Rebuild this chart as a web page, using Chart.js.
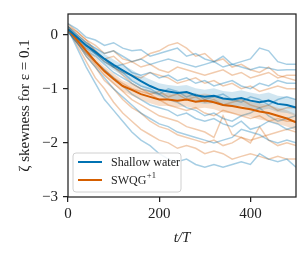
<!DOCTYPE html>
<html>
<head>
<meta charset="utf-8">
<script src="https://cdn.jsdelivr.net/npm/chart.js@4.4.1/dist/chart.umd.min.js"></script>
<style>
  html, body { margin: 0; padding: 0; background: #fff; }
  #wrap { width: 308px; height: 259px; }
</style>
</head>
<body>
<div id="wrap"><canvas id="c" width="308" height="259"></canvas></div>
<script>
// time axis, t/T
const times = [0,20,40,60,80,100,120,140,160,180,200,220,240,260,280,300,320,340,360,380,400,420,440,460,480,500];

// ensemble means
const shallowMean = [0.1,-0.05,-0.2,-0.32,-0.45,-0.56,-0.66,-0.76,-0.86,-0.95,-1.02,-1.05,-1.08,-1.06,-1.12,-1.15,-1.13,-1.18,-1.2,-1.17,-1.22,-1.25,-1.22,-1.28,-1.3,-1.35];
const swqgMean = [0.1,-0.1,-0.3,-0.5,-0.68,-0.82,-0.95,-1.02,-1.1,-1.15,-1.2,-1.2,-1.22,-1.2,-1.24,-1.22,-1.25,-1.3,-1.32,-1.35,-1.38,-1.42,-1.45,-1.5,-1.55,-1.62];

// spread of the shaded band around each mean
const shallowSpread = [0.04,0.06,0.07,0.08,0.09,0.1,0.1,0.11,0.11,0.12,0.12,0.12,0.13,0.13,0.13,0.13,0.14,0.14,0.14,0.14,0.15,0.15,0.15,0.15,0.15,0.15];
const swqgSpread = [0.04,0.06,0.07,0.08,0.09,0.1,0.1,0.11,0.11,0.12,0.12,0.12,0.12,0.13,0.13,0.13,0.13,0.14,0.14,0.14,0.14,0.15,0.15,0.15,0.15,0.15];

// individual runs, shallow water
const shallowRuns = [
  [0.2,0.1,-0.05,-0.1,-0.2,-0.15,-0.25,-0.3,-0.28,-0.4,-0.35,-0.3,-0.25,-0.4,-0.35,-0.45,-0.5,-0.4,-0.55,-0.5,-0.45,-0.25,-0.3,-0.5,-0.55,-0.55],
  [0.15,0,-0.15,-0.25,-0.35,-0.3,-0.4,-0.5,-0.45,-0.55,-0.5,-0.45,-0.5,-0.55,-0.6,-0.55,-0.5,-0.6,-0.55,-0.6,-0.65,-0.6,-0.62,-0.66,-0.65,-0.65],
  [0.1,-0.05,-0.2,-0.35,-0.45,-0.6,-0.55,-0.7,-0.75,-0.7,-0.8,-0.75,-0.85,-0.8,-0.9,-0.85,-0.95,-0.9,-0.85,-0.95,-1.0,-0.9,-0.95,-0.85,-0.9,-0.9],
  [0.1,-0.1,-0.3,-0.4,-0.55,-0.7,-0.8,-0.9,-1.0,-1.05,-1.1,-1.0,-1.05,-1.15,-1.1,-1.2,-1.15,-1.1,-1.2,-1.25,-1.15,-1.2,-1.3,-1.2,-1.15,-1.2],
  [0.05,-0.15,-0.35,-0.5,-0.65,-0.8,-0.95,-1.1,-1.2,-1.3,-1.35,-1.4,-1.5,-1.45,-1.55,-1.6,-1.55,-1.65,-1.7,-1.6,-1.75,-1.7,-1.6,-1.65,-1.75,-1.7],
  [0.1,-0.25,-0.6,-0.9,-1.2,-1.4,-1.6,-1.8,-1.95,-2.05,-2.2,-2.3,-2.35,-2.3,-2.4,-2.45,-2.4,-2.45,-2.4,-2.35,-2.4,-2.2,-2.3,-2.35,-2.3,-2.45],
  [0.15,-0.05,-0.25,-0.35,-0.5,-0.6,-0.7,-0.85,-0.95,-1.0,-1.1,-1.2,-1.25,-1.35,-1.4,-1.5,-1.45,-1.55,-1.6,-1.5,-1.45,-1.35,-1.5,-1.6,-1.55,-1.5],
  [0.05,-0.15,-0.4,-0.6,-0.8,-1.0,-1.15,-1.3,-1.45,-1.55,-1.65,-1.7,-1.8,-1.85,-1.9,-1.95,-2.0,-1.95,-1.9,-1.75,-1.8,-1.85,-1.95,-2.0,-1.95,-2.0]
];

// individual runs, SWQG+1
const swqgRuns = [
  [0.15,0,-0.15,-0.3,-0.45,-0.4,-0.55,-0.5,-0.45,-0.35,-0.3,-0.2,-0.15,-0.25,-0.4,-0.35,-0.5,-0.45,-0.6,-0.55,-0.65,-0.7,-0.6,-0.75,-0.8,-0.85],
  [0.1,-0.05,-0.2,-0.35,-0.5,-0.6,-0.7,-0.75,-0.8,-0.7,-0.75,-0.8,-0.9,-0.85,-0.8,-0.9,-0.85,-0.95,-0.9,-1.0,-0.95,-1.05,-1.0,-0.95,-1.0,-1.0],
  [0.1,-0.1,-0.3,-0.5,-0.65,-0.8,-0.9,-1.0,-1.05,-1.1,-1.05,-1.15,-1.1,-1.2,-1.15,-1.25,-1.2,-1.3,-1.25,-1.2,-1.3,-1.35,-1.3,-1.4,-1.35,-1.35],
  [0.05,-0.15,-0.35,-0.55,-0.75,-0.9,-1.05,-1.2,-1.3,-1.4,-1.5,-1.55,-1.6,-1.7,-1.75,-1.8,-1.9,-1.5,-1.85,-1.9,-1.95,-1.9,-1.85,-1.8,-1.75,-1.8],
  [0.1,-0.2,-0.5,-0.8,-1.0,-1.25,-1.45,-1.6,-1.75,-1.85,-1.95,-2.0,-2.1,-2.05,-2.1,-2.2,-2.15,-2.2,-2.3,-2.25,-2.2,-2.25,-2.3,-2.25,-2.3,-2.3],
  [0.2,0.05,-0.1,-0.3,-0.45,-0.6,-0.75,-0.9,-1.0,-1.1,-1.2,-1.3,-1.35,-1.4,-1.35,-1.45,-1.5,-1.4,-1.45,-1.5,-1.55,-1.5,-1.6,-1.55,-1.6,-1.6],
  [0.15,0.05,-0.1,-0.2,-0.35,-0.3,-0.45,-0.5,-0.6,-0.55,-0.65,-0.7,-0.6,-0.65,-0.7,-0.75,-0.7,-0.65,-0.75,-0.7,-0.8,-0.75,-0.7,-0.8,-0.75,-0.75],
  [0.1,-0.15,-0.4,-0.6,-0.85,-1.0,-1.2,-1.35,-1.45,-1.6,-1.7,-1.75,-1.85,-1.9,-1.95,-2.0,-1.95,-2.05,-2.0,-1.9,-2.0,-1.7,-1.95,-2.05,-2.0,-2.05]
];

const xTicks = [0, 200, 400];
const yTicks = [-3, -2, -1, 0];

const BLUE = '#0072B2';
const ORANGE = '#D55E00';
const SERIF = '"Liberation Serif", "DejaVu Serif", serif';

const pts = arr => arr.map((v, i) => ({x: times[i], y: v}));

const datasets = [];
// means on top
datasets.push({label: 'Shallow water', data: pts(shallowMean), borderColor: BLUE, borderWidth: 2, order: 0});
datasets.push({label: 'SWQG+1', data: pts(swqgMean), borderColor: ORANGE, borderWidth: 2, order: 0});
// bands
datasets.push({label: 'sw hi', data: pts(shallowMean.map((m, i) => m + shallowSpread[i])), borderWidth: 0, borderColor: 'transparent', order: 1});
datasets.push({label: 'sw lo', data: pts(shallowMean.map((m, i) => m - shallowSpread[i])), borderWidth: 0, borderColor: 'transparent', fill: '-1', backgroundColor: 'rgba(0,114,178,0.18)', order: 1});
datasets.push({label: 'qg hi', data: pts(swqgMean.map((m, i) => m + swqgSpread[i])), borderWidth: 0, borderColor: 'transparent', order: 1});
datasets.push({label: 'qg lo', data: pts(swqgMean.map((m, i) => m - swqgSpread[i])), borderWidth: 0, borderColor: 'transparent', fill: '-1', backgroundColor: 'rgba(213,94,0,0.2)', order: 1});
// runs
shallowRuns.forEach(r => datasets.push({label: 'run', data: pts(r), borderColor: 'rgba(0,114,178,0.35)', borderWidth: 1.5, order: 2}));
swqgRuns.forEach(r => datasets.push({label: 'run', data: pts(r), borderColor: 'rgba(213,94,0,0.32)', borderWidth: 1.5, order: 2}));

const frameAndLegend = {
  id: 'frameAndLegend',
  afterDraw(chart) {
    const {ctx, chartArea: a} = chart;
    ctx.save();
    ctx.strokeStyle = '#222';
    ctx.lineWidth = 1.25;
    ctx.strokeRect(a.left, a.top, a.right - a.left, a.bottom - a.top);

    // legend box, lower left
    const bx = a.left + 5, by = a.bottom - 44, bw = 108, bh = 39, r = 3;
    ctx.beginPath();
    ctx.roundRect(bx, by, bw, bh, r);
    ctx.fillStyle = 'rgba(255,255,255,0.85)';
    ctx.fill();
    ctx.strokeStyle = '#d0d0d0';
    ctx.lineWidth = 1;
    ctx.stroke();

    const rows = [{c: BLUE, y: by + 9, t: 'Shallow water'}, {c: ORANGE, y: by + 27, t: 'SWQG', sup: '+1'}];
    rows.forEach(row => {
      ctx.beginPath();
      ctx.strokeStyle = row.c;
      ctx.lineWidth = 2;
      ctx.moveTo(bx + 5, row.y);
      ctx.lineTo(bx + 29, row.y);
      ctx.stroke();
      ctx.fillStyle = '#222';
      ctx.textBaseline = 'middle';
      ctx.font = '12px ' + SERIF;
      ctx.fillText(row.t, bx + 38, row.y + 1);
      if (row.sup) {
        const w = ctx.measureText(row.t).width;
        ctx.font = '8.5px ' + SERIF;
        ctx.fillText(row.sup, bx + 38 + w + 0.5, row.y - 4);
      }
    });
    ctx.restore();
  }
};

new Chart(document.getElementById('c'), {
  type: 'line',
  data: {datasets},
  options: {
    responsive: false,
    animation: false,
    elements: {point: {radius: 0}, line: {tension: 0, fill: false}},
    layout: {padding: {left: 16, right: 12, top: 12, bottom: 12}},
    plugins: {legend: {display: false}, tooltip: {enabled: false}},
    scales: {
      x: {
        type: 'linear', min: 0, max: 500,
        afterBuildTicks: s => { s.ticks = xTicks.map(v => ({value: v})); },
        afterFit: s => { s.height = 50; },
        grid: {drawOnChartArea: false, drawTicks: true, tickLength: 5, color: '#222', lineWidth: 1.25},
        border: {display: false},
        ticks: {color: '#222', font: {family: SERIF, size: 15}, padding: 3, maxRotation: 0},
        title: {display: true, text: 't/T', color: '#222', font: {family: SERIF, size: 15, style: 'italic'}, padding: {top: 0, bottom: 0}}
      },
      y: {
        type: 'linear', min: -3, max: 0.38,
        afterBuildTicks: s => { s.ticks = yTicks.map(v => ({value: v})); },
        afterFit: s => { s.width = 52; },
        grid: {drawOnChartArea: false, drawTicks: true, tickLength: 5, color: '#222', lineWidth: 1.25},
        border: {display: false},
        ticks: {color: '#222', font: {family: SERIF, size: 15}, padding: 5,
          callback: v => v < 0 ? '\u2212' + Math.abs(v) : String(v)},
        title: {display: true, text: 'ζ skewness for ε = 0.1', color: '#222', font: {family: SERIF, size: 15}, padding: {top: 0, bottom: 2}}
      }
    }
  },
  plugins: [frameAndLegend]
});
</script>
</body>
</html>
